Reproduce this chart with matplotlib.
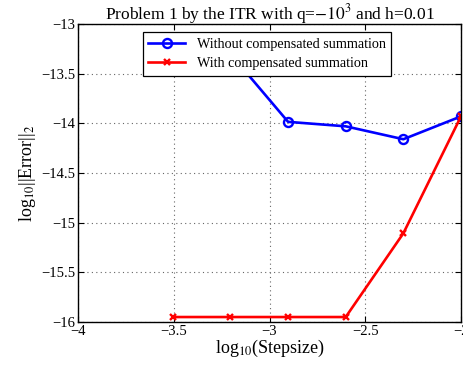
import numpy as np
import matplotlib
matplotlib.use('Agg')
import matplotlib.pyplot as plt

# step sizes h/2^k, k=0..5, on a log10 scale
logstep = [-3.505, -3.204, -2.903, -2.602, -2.301, -2.0]
# error without compensated summation (first two hidden behind legend)
err_plain = [-13.25, -13.30, -13.985, -14.03, -14.16, -13.93]
# error with compensated summation
err_comp = [-15.95, -15.95, -15.95, -15.95, -15.107, -13.93]

plt.rcParams['font.family'] = ['Liberation Serif', 'DejaVu Serif']
plt.rcParams['mathtext.fontset'] = 'stix'

fig = plt.figure(figsize=(4.64, 3.68), dpi=100)
ax = fig.add_axes([78/464, 46/368, 383/464, 298/368])

ax.plot(logstep, err_plain, '-o', color='blue', lw=1.9, ms=6.5, mew=1.7,
        fillstyle='none', label='Without compensated summation')
ax.plot(logstep, err_comp, '-x', color='red', lw=1.9, ms=4.5, mew=1.7,
        label='With compensated summation')

ax.set_xlim(-4, -2)
ax.set_ylim(-16, -13)
ax.set_xticks(np.arange(-4, -1.99, 0.5))
ax.set_yticks(np.arange(-16, -12.99, 0.5))
ax.set_xticklabels(['\u22124', '\u22123.5', '\u22123', '\u22122.5', '\u22122'])
ax.set_yticklabels(['\u221216', '\u221215.5', '\u221215', '\u221214.5',
                    '\u221214', '\u221213.5', '\u221213'])
ax.tick_params(direction='in', top=True, right=True, labelsize=10.5, length=4, pad=2)
ax.grid(True, linestyle=(0, (1, 3)), color='#666666', linewidth=0.8)
for s in ax.spines.values():
    s.set_linewidth(1.0)

ax.set_title(r'Problem 1 by the ITR with q=$-10^3$ and h=0.01', fontsize=12.5, pad=3)
ax.set_xlabel(r'log$_{10}$(Stepsize)', fontsize=13, labelpad=0)
ax.set_ylabel(r'log$_{10}$||Error||$_2$', fontsize=13, labelpad=2)

leg = ax.legend(loc='upper left', bbox_to_anchor=(0.169, 0.973), fontsize=10.2,
                fancybox=False, framealpha=1, edgecolor='black', borderaxespad=0,
                handlelength=2.6, borderpad=0.4, labelspacing=0.45)
leg.get_frame().set_linewidth(0.9)

fig.savefig('out.png', dpi=100)
